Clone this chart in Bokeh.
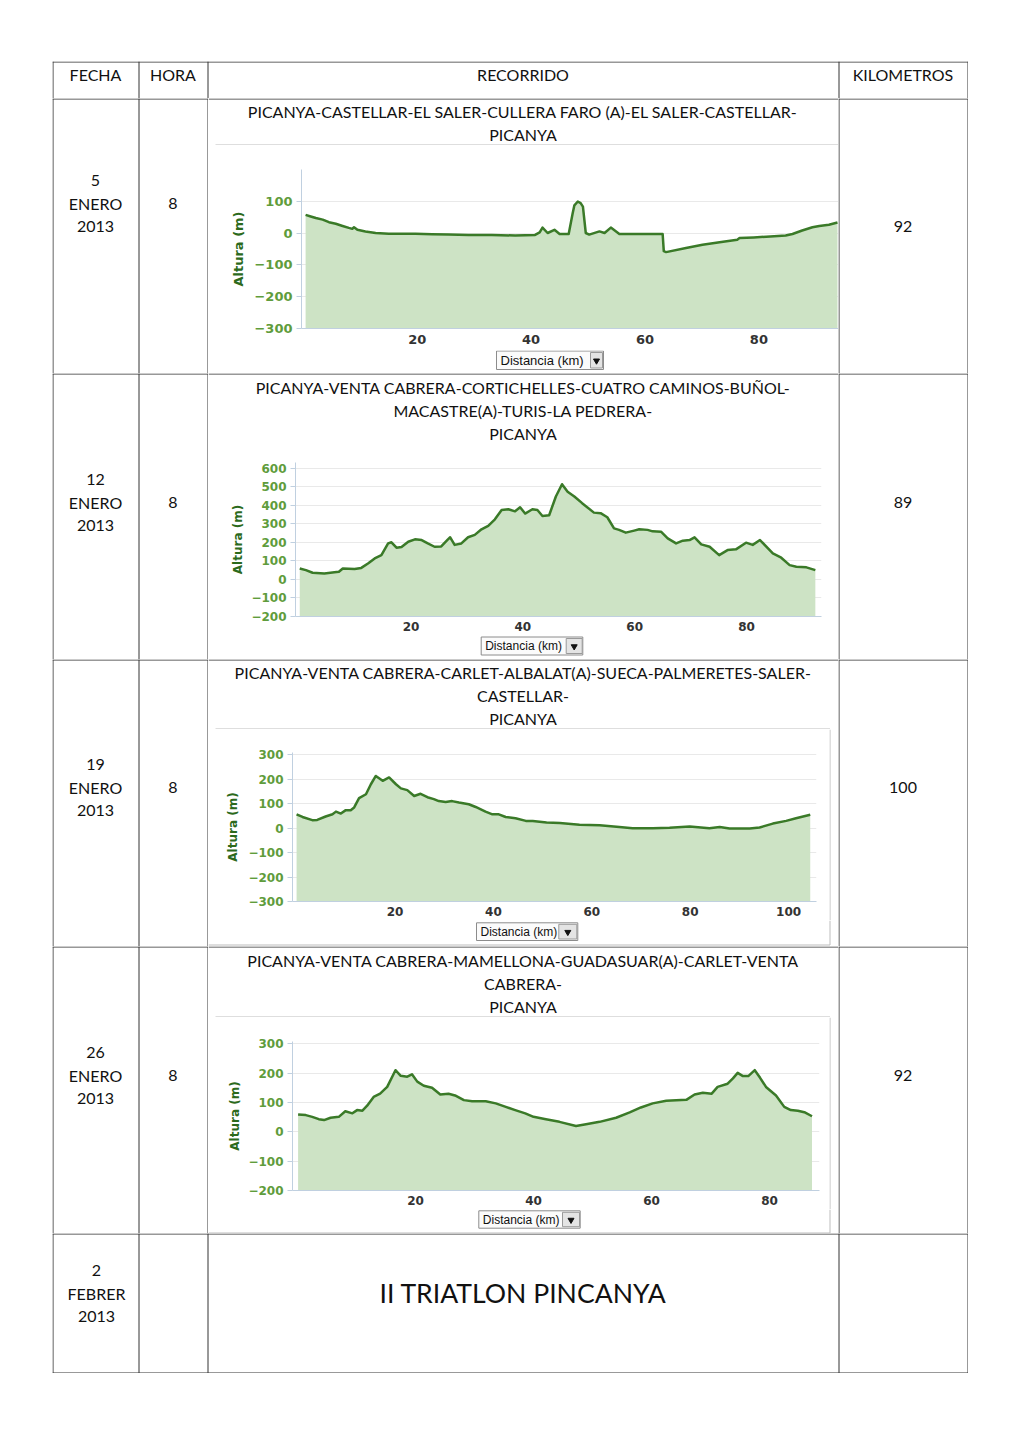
from bokeh.plotting import figure
from bokeh.models import Range1d, FixedTicker, Spacer
from bokeh.layouts import row, column
from bokeh.core.properties import value
from bokeh.embed import file_html
from bokeh.resources import INLINE

# ---------------- data ----------------
header = ["FECHA", "HORA", "RECORRIDO", "KILOMETROS"]
fechas = [["5", "ENERO", "2013"], ["12", "ENERO", "2013"], ["19", "ENERO", "2013"],
          ["26", "ENERO", "2013"], ["2", "FEBRER", "2013"]]
horas = ["8", "8", "8", "8", ""]
kms = ["92", "89", "100", "92", ""]
recorridos = [
    ["PICANYA-CASTELLAR-EL SALER-CULLERA FARO (A)-EL SALER-CASTELLAR-", "PICANYA"],
    ["PICANYA-VENTA CABRERA-CORTICHELLES-CUATRO CAMINOS-BUÑOL-", "MACASTRE(A)-TURIS-LA PEDRERA-", "PICANYA"],
    ["PICANYA-VENTA CABRERA-CARLET-ALBALAT(A)-SUECA-PALMERETES-SALER-", "CASTELLAR-", "PICANYA"],
    ["PICANYA-VENTA CABRERA-MAMELLONA-GUADASUAR(A)-CARLET-VENTA", "CABRERA-", "PICANYA"],
]
evento = "II TRIATLON PINCANYA"
x_label = "Distancia (km)"
y_label = "Altura (m)"

# chart 1
km1 = [0.4, 1.3, 2.2, 3.4, 4.5, 5.7, 6.9, 8.0, 8.6, 8.9, 9.5, 10.9, 12.7, 15.0, 19.7, 22.6, 25.5, 29.0,
       33.1, 37.2, 40.7, 41.5, 42.0, 42.9, 44.1, 45.0, 46.6, 47.3, 47.6, 48.2, 48.7, 49.1, 49.6, 50.2,
       52.0, 52.9, 54.0, 55.5, 63.1, 63.3, 63.7, 67.2, 70.1, 73.1, 76.2, 76.6, 79.1, 82.0, 84.7, 85.9,
       87.6, 89.4, 90.6, 92.3, 93.8]
el1 = [57, 52, 47, 42, 34, 29, 22, 16, 13, 18, 10, 5, 0, -2, -2, -4, -5, -6, -6, -8, -6, 2, 17, 0,
       10, -3, -3, 62, 87, 99, 94, 83, 0, -5, 5, 0, 17, -3, -3, -57, -60, -47, -37, -29, -21, -16,
       -14, -11, -8, -3, 8, 18, 22, 26, 33]
# chart 2
km2 = [0.1, 1.2, 2.4, 4.5, 6.3, 7.1, 7.8, 9.9, 11.1, 12.3, 13.5, 14.7, 15.9, 16.5, 17.4, 18.3, 19.5,
       20.7, 21.9, 23.0, 24.2, 25.4, 26.6, 27.0, 27.8, 29.0, 30.2, 31.4, 32.6, 33.8, 35.0, 36.2, 37.4,
       38.6, 39.5, 40.4, 41.7, 42.6, 43.5, 44.7, 45.9, 47.0, 48.0, 49.2, 50.6, 52.7, 53.9, 55.1, 56.3,
       57.2, 58.4, 59.9, 60.8, 62.3, 63.2, 64.7, 65.9, 67.4, 68.6, 69.8, 70.7, 71.9, 73.4, 75.1, 76.6,
       78.1, 79.9, 81.1, 82.4, 84.7, 86.2, 87.7, 88.9, 90.7, 92.3]
el2 = [59, 50, 36, 32, 38, 41, 59, 56, 62, 86, 113, 131, 194, 200, 171, 175, 203, 216, 212, 194, 176,
       178, 216, 227, 186, 194, 227, 240, 270, 289, 324, 374, 378, 367, 389, 355, 378, 374, 342, 346,
       447, 513, 473, 447, 411, 360, 357, 335, 275, 267, 252, 263, 270, 267, 259, 257, 221, 194, 209,
       212, 227, 189, 176, 131, 158, 162, 198, 186, 212, 140, 117, 77, 68, 65, 50]
# chart 3
km3 = [0.0, 1.2, 3.2, 4.2, 5.9, 7.3, 8.0, 9.0, 10.0, 11.0, 11.7, 12.7, 14.1, 15.1, 16.1, 17.5, 18.8,
       20.2, 21.2, 22.5, 23.9, 25.2, 26.6, 27.9, 28.9, 30.3, 31.6, 33.0, 35.0, 36.4, 38.4, 39.8, 41.1,
       42.5, 44.5, 46.6, 48.0, 50.8, 53.5, 57.5, 61.6, 65.6, 68.3, 72.4, 75.8, 79.9, 83.9, 86.0, 88.0,
       92.1, 94.1, 96.8, 99.5, 101.5, 104.4]
el3 = [57, 46, 33, 34, 48, 57, 68, 60, 74, 74, 85, 123, 139, 180, 214, 194, 208, 180, 163, 156, 132,
       141, 127, 119, 111, 107, 111, 105, 98, 87, 68, 57, 57, 46, 41, 30, 30, 23, 21, 14, 12, 5, 0, 0,
       2, 7, 0, 5, -1, -1, 3, 19, 30, 41, 55]
# chart 4
km4 = [0.1, 1.4, 2.5, 3.6, 4.5, 5.6, 7.0, 8.1, 9.3, 10.1, 11.0, 11.8, 12.9, 14.0, 15.2, 16.6, 17.5,
       18.6, 19.4, 20.3, 21.4, 22.8, 24.2, 25.6, 26.7, 28.2, 29.6, 31.9, 33.6, 35.3, 36.9, 38.6, 40.0,
       42.1, 44.4, 47.2, 48.9, 51.2, 54.0, 56.3, 58.2, 60.2, 62.5, 65.9, 67.3, 68.7, 70.2, 71.2, 72.9,
       73.8, 74.6, 75.5, 76.4, 77.5, 78.4, 79.4, 81.1, 82.5, 83.6, 84.8, 85.9, 87.2]
el4 = [59, 57, 51, 43, 40, 48, 51, 70, 63, 74, 72, 89, 119, 130, 153, 210, 191, 188, 196, 171, 157,
       150, 127, 130, 124, 108, 104, 104, 97, 85, 74, 63, 51, 43, 34, 20, 26, 34, 48, 66, 83, 97, 106,
       109, 127, 133, 130, 153, 164, 182, 201, 190, 190, 210, 184, 153, 124, 85, 74, 72, 67, 53]

xticks_a = [20, 40, 60, 80]
xticks_b = [20, 40, 60, 80, 100]
yticks1 = [-300, -200, -100, 0, 100]
ylabels1 = ["\u2212300", "\u2212200", "\u2212100", "0", "100"]
yticks2 = [-200, -100, 0, 100, 200, 300, 400, 500, 600]
ylabels2 = ["\u2212200", "\u2212100", "0", "100", "200", "300", "400", "500", "600"]
yticks3 = [-300, -200, -100, 0, 100, 200, 300]
ylabels3 = ["\u2212300", "\u2212200", "\u2212100", "0", "100", "200", "300"]
yticks4 = [-200, -100, 0, 100, 200, 300]
ylabels4 = ["\u2212200", "\u2212100", "0", "100", "200", "300"]

# ---------------- styles ----------------
TFONT = "Lato"
TSIZE = "16px"
BORDER = "#333333"
SEP = "#bdbdbd"
LINE_C = "#3a7a28"
FILL_C = "#cde3c5"
GRID_C = "#e9e9e9"
AXIS_C = "#c0d0e0"
YLAB_C = "#5f9c3c"
YTITLE_C = "#2c6a1c"
XLAB_C = "#333333"


def screen_fig(w, h):
    p = figure(width=w, height=h, x_range=Range1d(0, w), y_range=Range1d(h, 0),
               x_axis_location=None, y_axis_location=None, title=None,
               output_backend="svg", toolbar_location=None, min_border=0)
    p.grid.visible = False
    p.outline_line_color = None
    p.background_fill_color = "white"
    p.border_fill_color = "white"
    return p


def seg(p, x0, y0, x1, y1, color=BORDER):
    p.segment(x0=x0, y0=y0, x1=x1, y1=y1, line_color=color, line_width=1)


def txt(p, xs, ys, texts, size=TSIZE, font=TFONT, color="#111111"):
    p.text(x=xs, y=ys, text=texts, text_font=value(font), text_font_size=size,
           text_align="center", text_baseline="middle", text_color=color)


def chart_fig(w, h, mb, xr, yr, xt, yt, yl, km, el, fs, title_standoff, x_standoff):
    p = figure(width=w, height=h, x_range=Range1d(*xr), y_range=Range1d(*yr),
               min_border_left=mb[0], min_border_right=mb[1], min_border_top=mb[2],
               min_border_bottom=mb[3], title=None, output_backend="svg",
               toolbar_location=None)
    p.varea(x=km, y1=[yr[0]] * len(km), y2=el, fill_color=FILL_C, fill_alpha=1.0)
    p.line(km, el, line_color=LINE_C, line_width=2.5, line_join="round")
    p.outline_line_color = None
    p.background_fill_color = "white"
    p.border_fill_color = "white"
    p.xgrid.visible = False
    p.ygrid.ticker = FixedTicker(ticks=yt)
    p.ygrid.grid_line_color = GRID_C
    p.yaxis.ticker = FixedTicker(ticks=yt)
    p.yaxis.major_label_overrides = {v: s for v, s in zip(yt, yl)}
    p.yaxis.minor_tick_line_color = None
    p.yaxis.major_tick_out = 5
    p.yaxis.major_tick_in = 0
    p.yaxis.major_tick_line_color = AXIS_C
    p.yaxis.axis_line_color = AXIS_C
    p.yaxis.major_label_standoff = 4
    p.yaxis.major_label_text_font = "DejaVu Sans"
    p.yaxis.major_label_text_font_style = "bold"
    p.yaxis.major_label_text_font_size = fs
    p.yaxis.major_label_text_color = YLAB_C
    p.yaxis.axis_label = y_label
    p.yaxis.axis_label_text_font = "DejaVu Sans"
    p.yaxis.axis_label_text_font_style = "bold"
    p.yaxis.axis_label_text_font_size = fs
    p.yaxis.axis_label_text_color = YTITLE_C
    p.yaxis.axis_label_standoff = title_standoff
    p.xaxis.ticker = FixedTicker(ticks=xt)
    p.xaxis.minor_tick_line_color = None
    p.xaxis.major_tick_out = 0
    p.xaxis.major_tick_in = 0
    p.xaxis.axis_line_color = AXIS_C
    p.xaxis.major_label_standoff = x_standoff
    p.xaxis.major_label_text_font = "DejaVu Sans"
    p.xaxis.major_label_text_font_style = "bold"
    p.xaxis.major_label_text_font_size = fs
    p.xaxis.major_label_text_color = XLAB_C
    return p


def drop_fig(w, h, box, arrow, fs, bottom_line=None):
    p = screen_fig(w, h)
    x0, x1, y0, y1 = box
    p.quad(left=[x0], right=[x1], top=[y0], bottom=[y1], fill_color="#fbfbfb",
           line_color="#8c8c8c", line_width=1)
    a0, a1 = arrow
    p.quad(left=[a0], right=[a1], top=[y0 + 1.5], bottom=[y1 - 1.5], fill_color="#e4e4e4",
           line_color="#9a9a9a", line_width=1)
    p.scatter(x=[(a0 + a1) / 2], y=[(y0 + y1) / 2 + 0.5], marker="inverted_triangle", size=6,
              fill_color="#111111", line_color="#111111")
    p.text(x=[x0 + 4], y=[(y0 + y1) / 2], text=[x_label], text_font=value("Liberation Sans"),
           text_font_size=fs, text_align="left", text_baseline="middle", text_color="#111111")
    if bottom_line is not None:
        seg(p, [0], [bottom_line], [w - 8.5], [bottom_line], SEP)
        seg(p, [w - 8.5], [0], [w - 8.5], [bottom_line], SEP)
    return p


def left_fig(h, fecha, hora, ys, hy):
    p = screen_fig(156, h)
    seg(p, [0, 0.5, 86.5, 155.5], [0.5, 0, 0, 0], [156, 0.5, 86.5, 155.5], [0.5, h, h, h])
    txt(p, [43, 43, 43], ys, fecha)
    txt(p, [120.5], [hy], [hora])
    return p


def right_fig(h, km, ky):
    p = screen_fig(130, h)
    seg(p, [0, 0.5, 129.5], [0.5, 0, 0], [130, 0.5, 129.5], [0.5, h, h])
    txt(p, [64.5], [ky], [km])
    return p


def title_fig(h, lines, ys, sep_to=None):
    p = screen_fig(630, h)
    seg(p, [0], [0.5], [630], [0.5])
    txt(p, [314.5] * len(lines), ys, lines)
    if sep_to is not None:
        seg(p, [7], [h - 0.5], [sep_to], [h - 0.5], SEP)
    return p


def strip_fig(h):
    p = screen_fig(9, h)
    seg(p, [0.5], [0], [0.5], [h], SEP)
    return p


# ---------------- header ----------------
hdr = screen_fig(916, 37)
seg(hdr, [0, 0.5, 86.5, 155.5, 786.5, 915.5], [0.5, 0, 0, 0, 0, 0],
    [916, 0.5, 86.5, 155.5, 786.5, 915.5], [0.5, 37, 37, 37, 37, 37])
txt(hdr, [43, 120.5, 470.5, 850.5], [13, 13, 13, 13], header)

# ---------------- row 1 ----------------
c1 = chart_fig(630, 205, (93, 0, 24, 22), (-0.32, 93.98), (-300, 199.5), xticks_a, yticks1,
               ylabels1, km1, el1, "13px", 5, 6)
mid1 = column(row(title_fig(47, recorridos[0], [12.5, 35.5], sep_to=630)), row(c1),
              row(drop_fig(630, 23, (288, 395, 0.5, 19), (382, 394), "13px")))
row1 = row(left_fig(275, fechas[0], horas[0], [81.5, 104.5, 127.5], 104.5), mid1,
           right_fig(275, kms[0], 127.5))

# ---------------- row 2 ----------------
c2 = chart_fig(630, 190, (87, 17, 17, 19), (-0.66, 93.4), (-200, 630.2), xticks_a, yticks2,
               ylabels2, km2, el2, "12px", 3, 5)
mid2 = column(row(title_fig(72, recorridos[1], [13.5, 36.5, 59.5])), row(c2),
              row(drop_fig(630, 24, (272.7, 374.3, 1.5, 19.5), (357.7, 373.7), "12px")))
row2 = row(left_fig(286, fechas[1], horas[1], [105.5, 128.5, 151.5], 128.5), mid2,
           right_fig(286, kms[1], 128.5))

# ---------------- row 3 ----------------
c3 = chart_fig(621, 191, (84, 13, 23, 19), (-0.83, 105.67), (-300, 310), xticks_b, yticks3,
               ylabels3, km3, el3, "12px", 5, 5)
mid3 = column(row(title_fig(70, recorridos[2], [12.5, 35.5, 58.5], sep_to=621.5)),
              row(row(c3), row(strip_fig(191))),
              row(drop_fig(630, 26, (268, 369.3, 2.3, 20), (350.3, 368.3), "12px", bottom_line=24.5)))
row3 = row(left_fig(287, fechas[2], horas[2], [104.5, 127.5, 150.5], 127.5), mid3,
           right_fig(287, kms[2], 127.5))

# ---------------- row 4 ----------------
c4 = chart_fig(621, 192, (84, 10, 24, 19), (-0.85, 88.47), (-200, 307.8), xticks_a, yticks4,
               ylabels4, km4, el4, "12px", 3, 5)
mid4 = column(row(title_fig(71, recorridos[3], [13.5, 36.5, 59.5], sep_to=621.5)),
              row(row(c4), row(strip_fig(192))),
              row(drop_fig(630, 24, (270.3, 371.7, 1.3, 18.7), (354, 371), "12px", bottom_line=23.5)))
row4 = row(left_fig(287, fechas[3], horas[3], [105.5, 128.5, 151.5], 128.5), mid4,
           right_fig(287, kms[3], 128.5))

# ---------------- row 5 ----------------
r5 = screen_fig(916, 140)
seg(r5, [0, 0, 0.5, 86.5, 155.5, 786.5, 915.5], [0.5, 139.5, 0, 0, 0, 0, 0],
    [916, 916, 0.5, 86.5, 155.5, 786.5, 915.5], [0.5, 139.5, 140, 140, 140, 140, 140])
txt(r5, [44, 44, 44], [36.5, 59.5, 82.5], fechas[4])
txt(r5, [470.5], [59.5], [evento], size="26.6px")

table = column(hdr, row1, row2, row3, row4, r5)
page = column(Spacer(width=10, height=61), row(Spacer(width=52, height=10), table))

open("out.html", "w").write(file_html(page, INLINE))
